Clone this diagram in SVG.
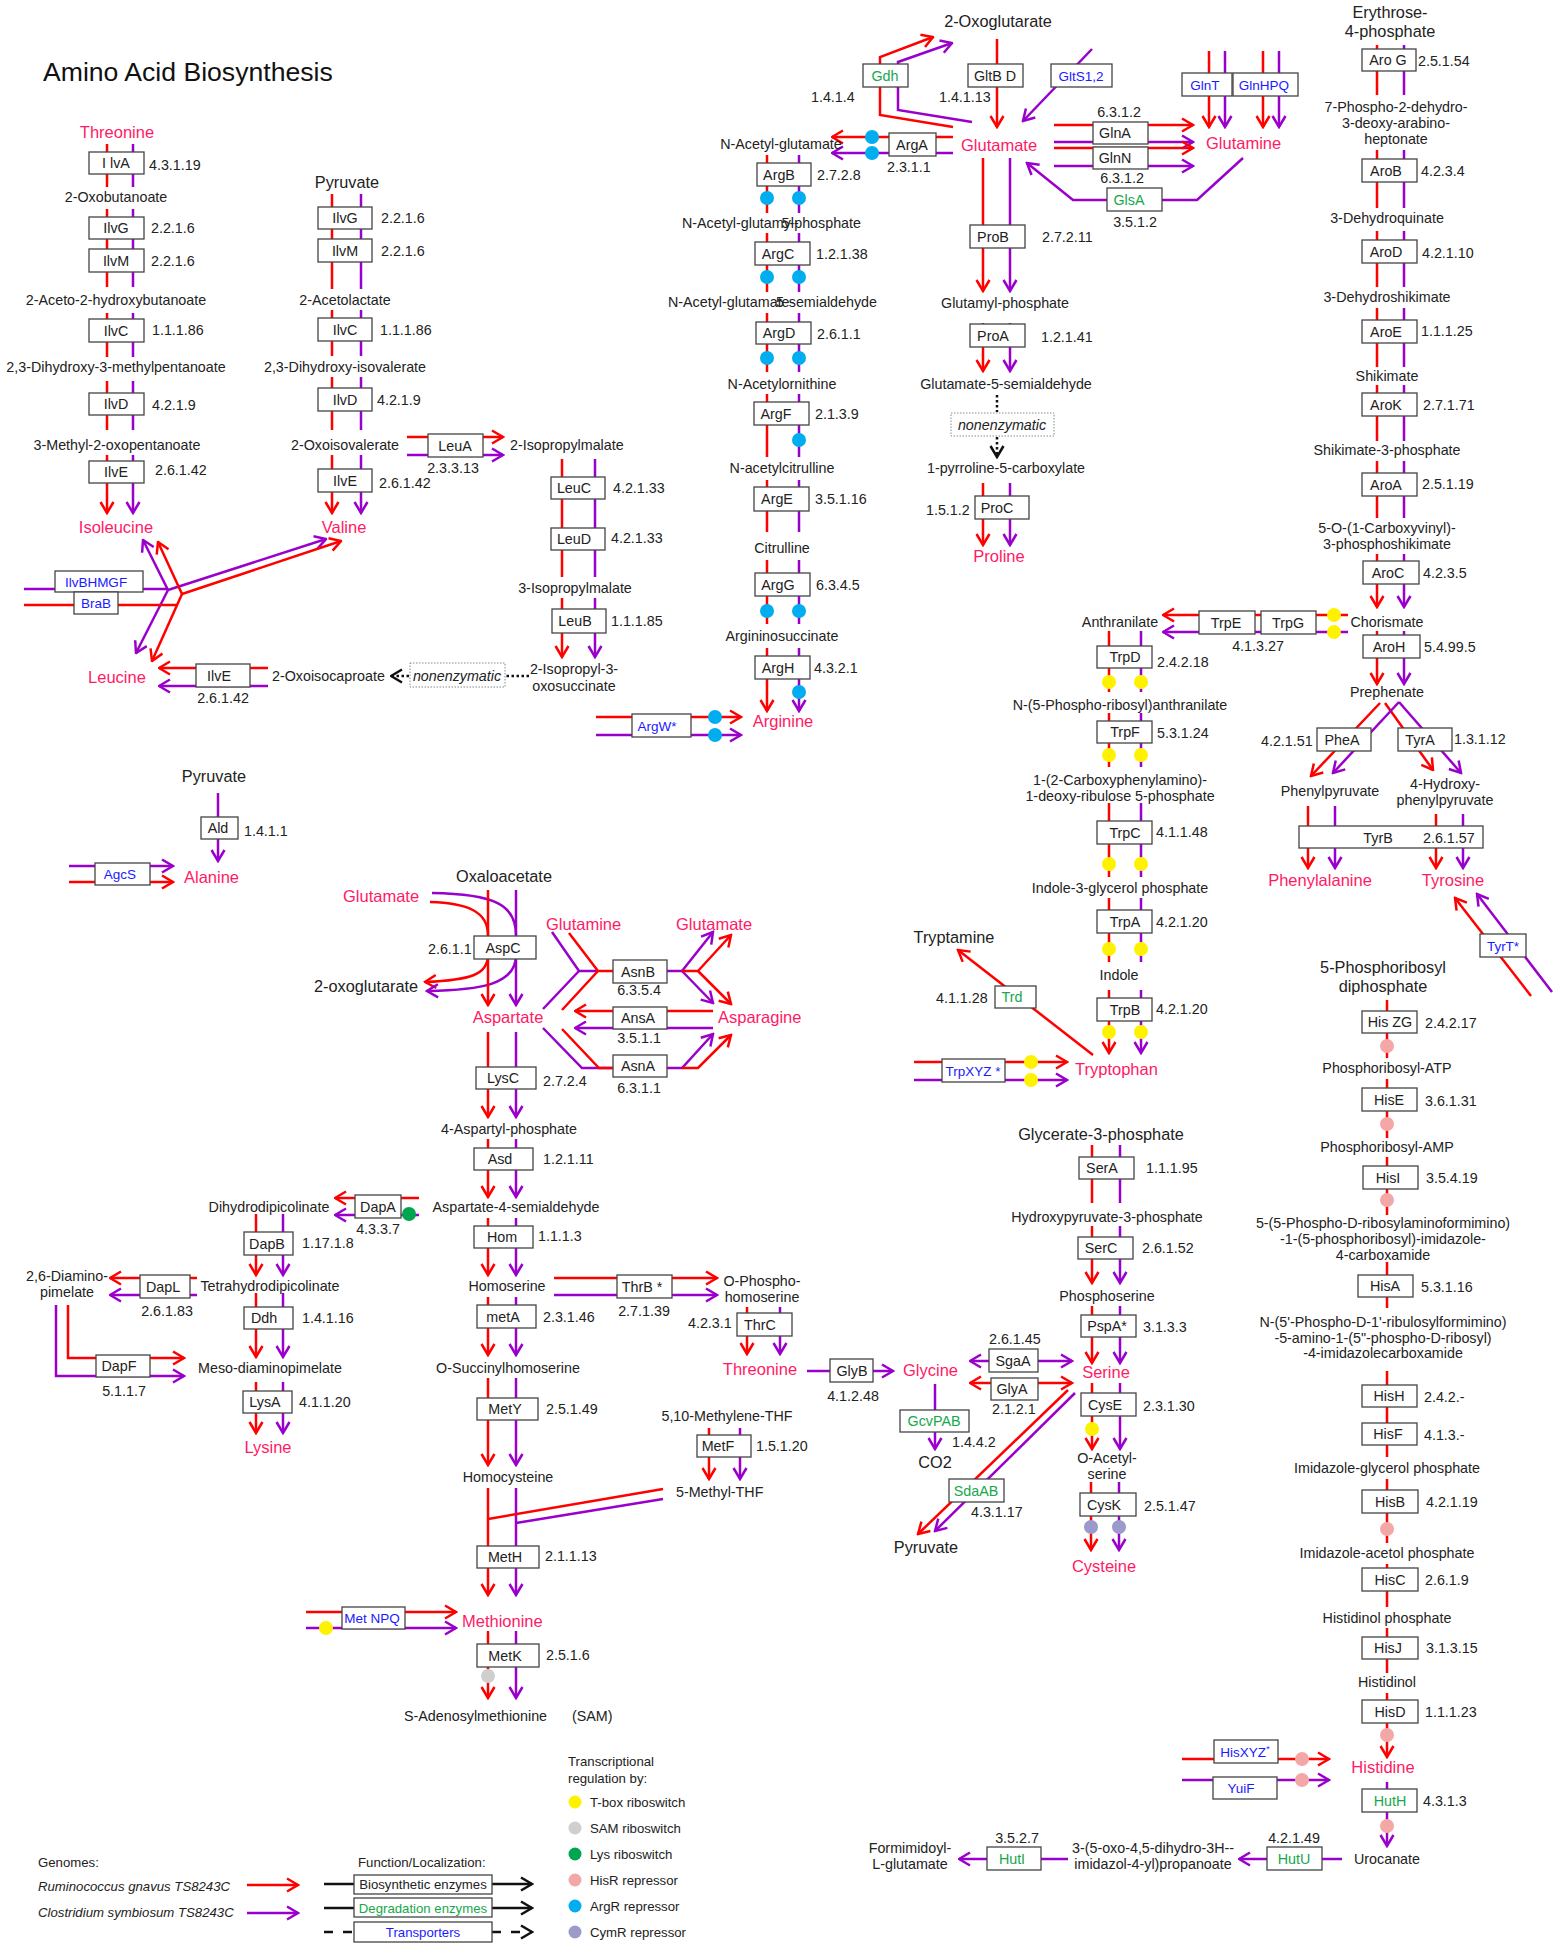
<svg xmlns="http://www.w3.org/2000/svg" width="1562" height="1944" viewBox="0 0 1562 1944">
<defs>
<style>
text{font-family:"Liberation Sans",Arial,sans-serif;font-size:14.3px;fill:#222}
.c{text-anchor:middle}
.e{text-anchor:end}
.aa{font-size:16.5px;fill:#ff1a66}
.L{font-size:16.3px}
.g{fill:#16a84a}
.bl{fill:#1a1aff;font-size:13.5px}
.it{font-style:italic}
.lg{font-size:13.2px}
.bx{fill:#fff;stroke:#444;stroke-width:1.3}
.db{fill:#fff;stroke:#888;stroke-width:1;stroke-dasharray:1.5,1.5}
.r{fill:none;stroke:#f00;stroke-width:2.5}
.p{fill:none;stroke:#90c;stroke-width:2.5}
.k{fill:none;stroke:#111;stroke-width:2.5}
.dot{stroke-dasharray:2.5,2.5}
.ra{marker-end:url(#ar)}
.pa{marker-end:url(#ap)}
.ka{marker-end:url(#ak)}
.rs{marker-start:url(#ar)}
.ps{marker-start:url(#ap)}
.y{fill:#fff200}.gr{fill:#cfcfcf}.gn{fill:#00a550}.pk{fill:#f4a7a7}.bu{fill:#00adef}.lv{fill:#9c99cb}
</style>
<marker id="ar" viewBox="0 0 14 16" refX="12.5" refY="8" markerWidth="14" markerHeight="16" markerUnits="userSpaceOnUse" orient="auto-start-reverse"><path d="M1.5,1.5L12.5,8L1.5,14.5" fill="none" stroke="#f00" stroke-width="2.5"/></marker>
<marker id="ap" viewBox="0 0 14 16" refX="12.5" refY="8" markerWidth="14" markerHeight="16" markerUnits="userSpaceOnUse" orient="auto-start-reverse"><path d="M1.5,1.5L12.5,8L1.5,14.5" fill="none" stroke="#90c" stroke-width="2.5"/></marker>
<marker id="ak" viewBox="0 0 14 16" refX="12.5" refY="8" markerWidth="14" markerHeight="16" markerUnits="userSpaceOnUse" orient="auto-start-reverse"><path d="M1.5,1.5L12.5,8L1.5,14.5" fill="none" stroke="#111" stroke-width="2.5"/></marker>
</defs>
<rect width="1562" height="1944" fill="#fff"/>
<text x="43" y="81" style="font-size:26.6px;fill:#111">Amino Acid Biosynthesis</text>

<g id="connectors">
<path class="r ra" d="M107,144V187M107,209V287M107,313V357M107,381V430M107,455V513"/>
<path class="p pa" d="M133,144V187M133,209V287M133,313V357M133,381V430M133,455V513"/>
<path class="r ra" d="M332,194V289M332,310V356M332,377V430M332,455V513"/>
<path class="p pa" d="M361,194V289M361,310V356M361,377V430M361,455V513"/>
<path class="r ra" d="M407,437H503"/><path class="p pa" d="M407,455H503"/>
<path class="r ra" d="M562,459V577M562,598V657"/><path class="p pa" d="M595,459V577M595,598V657"/>
<path class="k dot" d="M529,676H506"/><path class="k dot ka" d="M409,676H391"/>
<path class="r ra" d="M268,668H159"/><path class="p pa" d="M268,686H159"/>
<path class="p" d="M24,589H168"/>
<path class="p pa" d="M168,590L143,540"/><path class="p pa" d="M168,590L136,653"/><path class="p pa" d="M168,590L326,539"/>
<path class="r" d="M24,605H177"/>
<path class="r ra" d="M182,594L158,542"/><path class="r ra" d="M182,594L152,661"/><path class="r ra" d="M182,594L341,541"/>
<path class="r ra" d="M767,155V213M767,233V292M767,313V372M767,394V457M767,480V532M767,560V624M767,648V711"/>
<path class="p pa" d="M799,155V213M799,233V292M799,313V372M799,394V457M799,480V532M799,560V624M799,648V711"/>
<path class="r ra" d="M953,137H832"/><path class="p pa" d="M953,153H832"/>
<path class="r ra" d="M596,717H741"/><path class="p pa" d="M596,735H741"/>
<path class="r ra" d="M997,39V127"/>
<path class="r ra" d="M953,127L880,115V57L933,37"/>
<path class="p pa" d="M972,122L898,110V62L952,43"/>
<path class="p pa" d="M1092,49L1023,121"/>
<path class="r ra" d="M983,158V291"/><path class="p pa" d="M1010,158V291"/>
<path class="r ra" d="M983,323V371"/><path class="p pa" d="M1010,323V371"/>
<path class="k dot" d="M997,395V412"/><path class="k dot ka" d="M997,437V457"/>
<path class="r ra" d="M983,483V545"/><path class="p pa" d="M1010,483V545"/>
<path class="r ra" d="M1054,125H1193"/><path class="p pa" d="M1054,142H1193"/><path class="r ra" d="M1054,148H1193"/><path class="p pa" d="M1054,166H1193"/>
<path class="p pa" d="M1243,158L1197,200H1073L1027,163"/>
<path class="r ra" d="M1209,51V127"/><path class="p pa" d="M1225,51V127"/><path class="r ra" d="M1263,51V127"/><path class="p pa" d="M1279,51V127"/>
<path class="r" d="M1377,45V95M1377,150V208M1377,231V287M1377,308V367M1377,385V441M1377,461V518"/>
<path class="p" d="M1404,45V95M1404,150V208M1404,231V287M1404,308V367M1404,385V441M1404,461V518"/>
<path class="r ra" d="M1377,554V607"/><path class="p pa" d="M1404,554V607"/>
<path class="r ra" d="M1377,631V684"/><path class="p pa" d="M1404,631V684"/>
<path class="r ra" d="M1380,703L1311,776"/><path class="r ra" d="M1385,703L1433,770"/>
<path class="p pa" d="M1399,702L1333,773"/><path class="p pa" d="M1399,702L1461,773"/>
<path class="r ra" d="M1308,806V868"/><path class="p pa" d="M1335,806V868"/><path class="r ra" d="M1436,814V868"/><path class="p pa" d="M1463,814V868"/>
<path class="r ra" d="M1531,996L1455,898"/><path class="p pa" d="M1552,992L1477,894"/>
<path class="r ra" d="M1348,615H1163"/><path class="p pa" d="M1348,632H1163"/>
<path class="r ra" d="M1109,631V692M1109,713V767M1109,803V877M1109,898V962M1109,990V1053"/>
<path class="p pa" d="M1141,631V692M1141,713V767M1141,803V877M1141,898V962M1141,990V1053"/>
<path class="r ra" d="M914,1062H1067"/><path class="p pa" d="M914,1080H1067"/>
<path class="r ra" d="M1093,1055L958,950"/>
<path class="p pa" d="M218,793V861"/>
<path class="p pa" d="M69,866H173"/><path class="r ra" d="M69,882H173"/>
<path class="r" d="M430,902C468,903 488,912 488,935"/>
<path class="p" d="M432,893C495,894 516,905 516,935"/>
<path class="r ra" d="M488,955C488,975 470,980 425,982"/>
<path class="p pa" d="M516,955C516,985 480,990 427,991"/>
<path class="r ra" d="M488,890V1005"/><path class="p pa" d="M516,890V1005"/>
<path class="r ra" d="M488,1032V1117"/><path class="p pa" d="M516,1032V1117"/>
<path class="r ra" d="M488,1139V1197"/><path class="p pa" d="M516,1139V1197"/>
<path class="r ra" d="M488,1218V1275"/><path class="p pa" d="M516,1218V1275"/>
<path class="r ra" d="M488,1297V1355"/><path class="p pa" d="M516,1297V1355"/>
<path class="r ra" d="M488,1378V1465"/><path class="p pa" d="M516,1378V1465"/>
<path class="r ra" d="M488,1488V1595"/><path class="p pa" d="M516,1488V1595"/>
<path class="r ra" d="M488,1631V1698"/><path class="p pa" d="M516,1631V1698"/>
<path class="r" d="M663,1489L488,1519"/><path class="p" d="M663,1499L516,1523"/>
<path class="r ra" d="M709,1428V1479"/><path class="p pa" d="M740,1428V1479"/>
<path class="r ra" d="M306,1612H456"/><path class="p pa" d="M306,1628H456"/>
<path class="p" d="M552,932L579,971H598M543,1009L579,971"/>
<path class="r" d="M569,933L598,971H613M562,1010L598,971"/>
<path class="p" d="M667,971H682"/>
<path class="p pa" d="M682,971L713,932"/><path class="p pa" d="M682,971L713,1003"/>
<path class="r" d="M682,971H698"/>
<path class="r ra" d="M698,971L731,935"/><path class="r ra" d="M698,971L731,1004"/>
<path class="r ra" d="M713,1011H575"/><path class="p pa" d="M713,1028H575"/>
<path class="p" d="M543,1028L582,1068H613"/><path class="r" d="M562,1029L599,1068H613"/>
<path class="p pa" d="M667,1068H682L713,1034"/><path class="r ra" d="M682,1068H698L731,1035"/>
<path class="r ra" d="M419,1198H335"/><path class="p pa" d="M419,1215H335"/>
<path class="r ra" d="M256,1214V1275"/><path class="p pa" d="M283,1214V1275"/>
<path class="r ra" d="M256,1293V1357"/><path class="p pa" d="M283,1293V1357"/>
<path class="r ra" d="M256,1382V1433"/><path class="p pa" d="M283,1382V1433"/>
<path class="r ra" d="M197,1278H110"/><path class="p pa" d="M197,1295H110"/>
<path class="r ra" d="M68,1305V1358H184"/><path class="p pa" d="M56,1305V1376H184"/>
<path class="r ra" d="M554,1278H717"/><path class="p pa" d="M554,1295H717"/>
<path class="r ra" d="M747,1307V1354"/><path class="p pa" d="M780,1307V1354"/>
<path class="p pa" d="M807,1371H893"/>
<path class="p ps pa" d="M970,1361H1072"/>
<path class="r rs ra" d="M970,1383H1072"/>
<path class="p pa" d="M935,1384V1449"/>
<path class="r ra" d="M1068,1390L918,1534"/><path class="p pa" d="M1075,1393L935,1531"/>
<path class="r" d="M1092,1145V1203"/><path class="p" d="M1120,1145V1203"/>
<path class="r ra" d="M1092,1226V1283"/><path class="p pa" d="M1120,1226V1283"/>
<path class="r ra" d="M1092,1306V1363"/><path class="p pa" d="M1120,1306V1363"/>
<path class="r ra" d="M1092,1383V1449"/><path class="p pa" d="M1120,1383V1449"/>
<path class="r ra" d="M1091,1482V1550"/><path class="p pa" d="M1119,1482V1550"/>
<path class="r ra" d="M1387,1000V1058M1387,1079V1138M1387,1157V1215M1387,1262V1308M1387,1371V1457M1387,1479V1543M1387,1564V1607M1387,1628V1673M1387,1693V1757"/>
<path class="r ra" d="M1182,1759H1329"/><path class="p pa" d="M1182,1780H1329"/>
<path class="p pa" d="M1387,1782V1846"/>
<path class="p pa" d="M1342,1859H1239"/>
<path class="p pa" d="M1068,1859H959"/>
</g>

<g id="regulation">
<circle class="bu" cx="872" cy="137" r="7"/><circle class="bu" cx="872" cy="153" r="7"/>
<circle class="bu" cx="767" cy="198" r="7"/><circle class="bu" cx="799" cy="198" r="7"/>
<circle class="bu" cx="767" cy="277" r="7"/><circle class="bu" cx="799" cy="277" r="7"/>
<circle class="bu" cx="767" cy="358" r="7"/><circle class="bu" cx="799" cy="358" r="7"/>
<circle class="bu" cx="799" cy="440" r="7"/>
<circle class="bu" cx="767" cy="611" r="7"/><circle class="bu" cx="799" cy="611" r="7"/>
<circle class="bu" cx="799" cy="692" r="7"/>
<circle class="bu" cx="715" cy="717" r="7"/><circle class="bu" cx="715" cy="735" r="7"/>
<circle class="y" cx="1334" cy="615" r="7"/><circle class="y" cx="1334" cy="632" r="7"/>
<circle class="y" cx="1109" cy="682" r="7"/><circle class="y" cx="1141" cy="682" r="7"/>
<circle class="y" cx="1109" cy="755" r="7"/><circle class="y" cx="1141" cy="755" r="7"/>
<circle class="y" cx="1109" cy="864" r="7"/><circle class="y" cx="1141" cy="864" r="7"/>
<circle class="y" cx="1109" cy="949" r="7"/><circle class="y" cx="1141" cy="949" r="7"/>
<circle class="y" cx="1109" cy="1032" r="7"/><circle class="y" cx="1141" cy="1032" r="7"/>
<circle class="y" cx="1031" cy="1062" r="7"/><circle class="y" cx="1031" cy="1080" r="7"/>
<circle class="y" cx="1092" cy="1429" r="7"/>
<circle class="lv" cx="1091" cy="1527" r="7"/><circle class="lv" cx="1119" cy="1527" r="7"/>
<circle class="gn" cx="409" cy="1214" r="7"/>
<circle class="y" cx="326" cy="1628" r="7"/>
<circle class="gr" cx="488" cy="1676" r="7"/>
<circle class="pk" cx="1387" cy="1046" r="7"/><circle class="pk" cx="1387" cy="1124" r="7"/><circle class="pk" cx="1387" cy="1200" r="7"/>
<circle class="pk" cx="1387" cy="1529" r="7"/><circle class="pk" cx="1387" cy="1735" r="7"/>
<circle class="pk" cx="1302" cy="1759" r="7"/><circle class="pk" cx="1302" cy="1780" r="7"/>
<circle class="pk" cx="1387" cy="1826" r="7"/>
</g>

<g id="metabolites">
<text class="c aa" x="117" y="138">Threonine</text>
<text class="c" x="116" y="202">2-Oxobutanoate</text>
<text class="c" x="116" y="305">2-Aceto-2-hydroxybutanoate</text>
<text class="c" x="116" y="372">2,3-Dihydroxy-3-methylpentanoate</text>
<text class="c" x="117" y="450">3-Methyl-2-oxopentanoate</text>
<text class="c aa" x="116" y="533">Isoleucine</text>
<text class="c L" x="347" y="188">Pyruvate</text>
<text class="c" x="345" y="305">2-Acetolactate</text>
<text class="c" x="345" y="372">2,3-Dihydroxy-isovalerate</text>
<text class="c" x="345" y="450">2-Oxoisovalerate</text>
<text class="c aa" x="344" y="533">Valine</text>
<text x="510" y="450">2-Isopropylmalate</text>
<text class="c" x="575" y="593">3-Isopropylmalate</text>
<text class="c" x="574" y="674">2-Isopropyl-3-</text>
<text class="c" x="574" y="691">oxosuccinate</text>
<text x="272" y="681">2-Oxoisocaproate</text>
<text class="c aa" x="117" y="683">Leucine</text>
<text class="c" x="781" y="149">N-Acetyl-glutamate</text>
<text x="682" y="228">N-Acetyl-glutamyl-</text><text class="e" x="861" y="228">5-phosphate</text>
<text x="668" y="307">N-Acetyl-glutamate-</text><text class="e" x="877" y="307">5-semialdehyde</text>
<text class="c" x="782" y="389">N-Acetylornithine</text>
<text class="c" x="782" y="473">N-acetylcitrulline</text>
<text class="c" x="782" y="553">Citrulline</text>
<text class="c" x="782" y="641">Argininosuccinate</text>
<text class="c aa" x="783" y="727">Arginine</text>
<text class="c L" x="998" y="27">2-Oxoglutarate</text>
<text x="961" y="151" class="aa">Glutamate</text>
<text class="c" x="1005" y="308">Glutamyl-phosphate</text>
<text class="c" x="1006" y="389">Glutamate-5-semialdehyde</text>
<text class="c" x="1006" y="473">1-pyrroline-5-carboxylate</text>
<text class="c aa" x="999" y="562">Proline</text>
<text x="1206" y="149" class="aa">Glutamine</text>
<text class="c L" x="1390" y="18">Erythrose-</text>
<text class="c L" x="1390" y="37">4-phosphate</text>
<text class="c" x="1396" y="112">7-Phospho-2-dehydro-</text>
<text class="c" x="1396" y="128">3-deoxy-arabino-</text>
<text class="c" x="1396" y="144">heptonate</text>
<text class="c" x="1387" y="223">3-Dehydroquinate</text>
<text class="c" x="1387" y="302">3-Dehydroshikimate</text>
<text class="c" x="1387" y="381">Shikimate</text>
<text class="c" x="1387" y="455">Shikimate-3-phosphate</text>
<text class="c" x="1387" y="533">5-O-(1-Carboxyvinyl)-</text>
<text class="c" x="1387" y="549">3-phosphoshikimate</text>
<text class="c" x="1387" y="627">Chorismate</text>
<text class="c" x="1387" y="697">Prephenate</text>
<text class="c" x="1330" y="796">Phenylpyruvate</text>
<text class="c" x="1445" y="789">4-Hydroxy-</text>
<text class="c" x="1445" y="805">phenylpyruvate</text>
<text class="c aa" x="1320" y="886">Phenylalanine</text>
<text class="c aa" x="1453" y="886">Tyrosine</text>
<text class="c" x="1120" y="627">Anthranilate</text>
<text class="c" x="1120" y="710">N-(5-Phospho-ribosyl)anthranilate</text>
<text class="c" x="1120" y="785">1-(2-Carboxyphenylamino)-</text>
<text class="c" x="1120" y="801">1-deoxy-ribulose 5-phosphate</text>
<text class="c" x="1120" y="893">Indole-3-glycerol phosphate</text>
<text class="c" x="1119" y="980">Indole</text>
<text x="1075" y="1075" class="aa">Tryptophan</text>
<text class="c L" x="954" y="943">Tryptamine</text>
<text class="c L" x="214" y="782">Pyruvate</text>
<text x="184" y="883" class="aa">Alanine</text>
<text x="456" y="882" class="L">Oxaloacetate</text>
<text x="343" y="902" class="aa">Glutamate</text>
<text x="314" y="992" class="L">2-oxoglutarate</text>
<text class="c aa" x="508" y="1023">Aspartate</text>
<text x="546" y="930" class="aa">Glutamine</text>
<text x="676" y="930" class="aa">Glutamate</text>
<text x="718" y="1023" class="aa">Asparagine</text>
<text class="c" x="509" y="1134">4-Aspartyl-phosphate</text>
<text class="c" x="516" y="1212">Aspartate-4-semialdehyde</text>
<text class="c" x="269" y="1212">Dihydrodipicolinate</text>
<text class="c" x="270" y="1291">Tetrahydrodipicolinate</text>
<text class="c" x="67" y="1281">2,6-Diamino-</text>
<text class="c" x="67" y="1297">pimelate</text>
<text class="c" x="270" y="1373">Meso-diaminopimelate</text>
<text class="c aa" x="268" y="1453">Lysine</text>
<text class="c" x="507" y="1291">Homoserine</text>
<text class="c" x="762" y="1286">O-Phospho-</text>
<text class="c" x="762" y="1302">homoserine</text>
<text class="c aa" x="760" y="1375">Threonine</text>
<text x="903" y="1376" class="aa">Glycine</text>
<text class="c L" x="935" y="1468">CO2</text>
<text class="c L" x="926" y="1553">Pyruvate</text>
<text class="c" x="508" y="1373">O-Succinylhomoserine</text>
<text class="c" x="508" y="1482">Homocysteine</text>
<text class="c" x="727" y="1421">5,10-Methylene-THF</text>
<text x="676" y="1497">5-Methyl-THF</text>
<text x="462" y="1627" class="aa">Methionine</text>
<text x="404" y="1721">S-Adenosylmethionine</text>
<text x="572" y="1721">(SAM)</text>
<text class="c L" x="1101" y="1140">Glycerate-3-phosphate</text>
<text class="c" x="1107" y="1222">Hydroxypyruvate-3-phosphate</text>
<text class="c" x="1107" y="1301">Phosphoserine</text>
<text class="c aa" x="1106" y="1378">Serine</text>
<text class="c" x="1107" y="1463">O-Acetyl-</text>
<text class="c" x="1107" y="1479">serine</text>
<text class="c aa" x="1104" y="1572">Cysteine</text>
<text class="c L" x="1383" y="973">5-Phosphoribosyl</text>
<text class="c L" x="1383" y="992">diphosphate</text>
<text class="c" x="1387" y="1073">Phosphoribosyl-ATP</text>
<text class="c" x="1387" y="1152">Phosphoribosyl-AMP</text>
<text class="c" x="1383" y="1228">5-(5-Phospho-D-ribosylaminoformimino)</text>
<text class="c" x="1383" y="1244">-1-(5-phosphoribosyl)-imidazole-</text>
<text class="c" x="1383" y="1260">4-carboxamide</text>
<text class="c" x="1383" y="1327">N-(5'-Phospho-D-1'-ribulosylformimino)</text>
<text class="c" x="1383" y="1343">-5-amino-1-(5"-phospho-D-ribosyl)</text>
<text class="c" x="1383" y="1358">-4-imidazolecarboxamide</text>
<text class="c" x="1387" y="1473">Imidazole-glycerol phosphate</text>
<text class="c" x="1387" y="1558">Imidazole-acetol phosphate</text>
<text class="c" x="1387" y="1623">Histidinol phosphate</text>
<text class="c" x="1387" y="1687">Histidinol</text>
<text class="c aa" x="1383" y="1773">Histidine</text>
<text class="c" x="1387" y="1864">Urocanate</text>
<text class="c" x="1153" y="1853">3-(5-oxo-4,5-dihydro-3H--</text>
<text class="c" x="1153" y="1869">imidazol-4-yl)propanoate</text>
<text class="c" x="910" y="1853">Formimidoyl-</text>
<text class="c" x="910" y="1869">L-glutamate</text>
</g>

<g id="enzymes">
<g id="IlvA1"><rect class="bx" x="89" y="152" width="55" height="22"/><text class="c" x="116" y="168">I lvA</text><text x="149" y="170">4.3.1.19</text></g>
<g id="IlvG1"><rect class="bx" x="89" y="217" width="55" height="22"/><text class="c" x="116" y="233">IlvG</text><text x="151" y="233">2.2.1.6</text></g>
<g id="IlvM1"><rect class="bx" x="89" y="249" width="55" height="23"/><text class="c" x="116" y="266">IlvM</text><text x="151" y="266">2.2.1.6</text></g>
<g id="IlvC1"><rect class="bx" x="89" y="319" width="55" height="23"/><text class="c" x="116" y="336">IlvC</text><text x="152" y="335">1.1.1.86</text></g>
<g id="IlvD1"><rect class="bx" x="89" y="393" width="55" height="22"/><text class="c" x="116" y="409">IlvD</text><text x="152" y="410">4.2.1.9</text></g>
<g id="IlvE1"><rect class="bx" x="89" y="461" width="55" height="22"/><text class="c" x="116" y="477">IlvE</text><text x="155" y="475">2.6.1.42</text></g>
<g id="IlvG2"><rect class="bx" x="318" y="207" width="54" height="22"/><text class="c" x="345" y="223">IlvG</text><text x="381" y="223">2.2.1.6</text></g>
<g id="IlvM2"><rect class="bx" x="318" y="239" width="54" height="23"/><text class="c" x="345" y="256">IlvM</text><text x="381" y="256">2.2.1.6</text></g>
<g id="IlvC2"><rect class="bx" x="318" y="318" width="54" height="23"/><text class="c" x="345" y="335">IlvC</text><text x="380" y="335">1.1.1.86</text></g>
<g id="IlvD2"><rect class="bx" x="318" y="388" width="54" height="23"/><text class="c" x="345" y="405">IlvD</text><text x="377" y="405">4.2.1.9</text></g>
<g id="IlvE2"><rect class="bx" x="318" y="469" width="54" height="23"/><text class="c" x="345" y="486">IlvE</text><text x="379" y="488">2.6.1.42</text></g>
<g id="LeuA"><rect class="bx" x="428" y="434" width="55" height="23"/><text class="c" x="455" y="451">LeuA</text><text class="c" x="453" y="473">2.3.3.13</text></g>
<g id="LeuC"><rect class="bx" x="551" y="477" width="54" height="22"/><text class="c" x="574" y="493">LeuC</text><text x="613" y="493">4.2.1.33</text></g>
<g id="LeuD"><rect class="bx" x="551" y="528" width="54" height="22"/><text class="c" x="574" y="544">LeuD</text><text x="611" y="543">4.2.1.33</text></g>
<g id="LeuB"><rect class="bx" x="552" y="609" width="54" height="24"/><text class="c" x="575" y="626">LeuB</text><text x="611" y="626">1.1.1.85</text></g>
<g id="nonenz1"><rect class="db" x="410" y="663" width="95" height="24"/><text class="c it" x="457" y="681">nonenzymatic</text></g>
<g id="IlvE3"><rect class="bx" x="196" y="664" width="54" height="23"/><text class="c" x="219" y="681">IlvE</text><text class="c" x="223" y="703">2.6.1.42</text></g>
<g id="IlvBHMGF"><rect class="bx" x="55" y="571" width="88" height="21"/><text class="c bl" x="96" y="587">IlvBHMGF</text></g>
<g id="BraB"><rect class="bx" x="74" y="592" width="44" height="22"/><text class="c bl" x="96" y="608">BraB</text></g>
<g id="ArgA"><rect class="bx" x="889" y="133" width="47" height="23"/><text class="c" x="912" y="150">ArgA</text><text x="887" y="172">2.3.1.1</text></g>
<g id="ArgB"><rect class="bx" x="757" y="163" width="54" height="23"/><text class="c" x="779" y="180">ArgB</text><text x="817" y="180">2.7.2.8</text></g>
<g id="ArgC"><rect class="bx" x="755" y="242" width="55" height="23"/><text class="c" x="778" y="259">ArgC</text><text x="816" y="259">1.2.1.38</text></g>
<g id="ArgD"><rect class="bx" x="756" y="322" width="55" height="22"/><text class="c" x="779" y="338">ArgD</text><text x="817" y="339">2.6.1.1</text></g>
<g id="ArgF"><rect class="bx" x="754" y="402" width="55" height="23"/><text class="c" x="776" y="419">ArgF</text><text x="815" y="419">2.1.3.9</text></g>
<g id="ArgE"><rect class="bx" x="754" y="487" width="55" height="24"/><text class="c" x="777" y="504">ArgE</text><text x="815" y="504">3.5.1.16</text></g>
<g id="ArgG"><rect class="bx" x="755" y="573" width="55" height="23"/><text class="c" x="778" y="590">ArgG</text><text x="816" y="590">6.3.4.5</text></g>
<g id="ArgH"><rect class="bx" x="755" y="656" width="55" height="23"/><text class="c" x="778" y="673">ArgH</text><text x="814" y="673">4.3.2.1</text></g>
<g id="ArgW"><rect class="bx" x="632" y="714" width="59" height="23"/><text class="c bl" x="657" y="731">ArgW*</text></g>
<g id="GltBD"><rect class="bx" x="968" y="64" width="55" height="23"/><text class="c" x="995" y="81">GltB D</text><text x="939" y="102">1.4.1.13</text></g>
<g id="Gdh"><rect class="bx" x="863" y="64" width="45" height="23"/><text class="c g" x="885" y="81">Gdh</text><text x="811" y="102">1.4.1.4</text></g>
<g id="GltS"><rect class="bx" x="1051" y="64" width="61" height="23"/><text class="c bl" x="1081" y="81">GltS1,2</text></g>
<g id="ProB"><rect class="bx" x="970" y="225" width="55" height="23"/><text class="c" x="993" y="242">ProB</text><text x="1042" y="242">2.7.2.11</text></g>
<g id="ProA"><rect class="bx" x="970" y="324" width="55" height="23"/><text class="c" x="993" y="341">ProA</text><text x="1041" y="342">1.2.1.41</text></g>
<g id="nonenz2"><rect class="db" x="951" y="413" width="103" height="23"/><text class="c it" x="1002" y="430">nonenzymatic</text></g>
<g id="ProC"><rect class="bx" x="975" y="496" width="54" height="23"/><text class="c" x="997" y="513">ProC</text><text x="926" y="515">1.5.1.2</text></g>
<g id="GlnA"><rect class="bx" x="1093" y="122" width="55" height="22"/><text class="c" x="1115" y="138">GlnA</text><text class="c" x="1119" y="117">6.3.1.2</text></g>
<g id="GlnN"><rect class="bx" x="1093" y="147" width="55" height="22"/><text class="c" x="1115" y="163">GlnN</text><text class="c" x="1122" y="183">6.3.1.2</text></g>
<g id="GlsA"><rect class="bx" x="1107" y="188" width="55" height="23"/><text class="c g" x="1129" y="205">GlsA</text><text class="c" x="1135" y="227">3.5.1.2</text></g>
<g id="GlnT"><rect class="bx" x="1182" y="73" width="50" height="23"/><text class="c bl" x="1205" y="90">GlnT</text></g>
<g id="GlnHPQ"><rect class="bx" x="1233" y="73" width="65" height="23"/><text class="c bl" x="1264" y="90">GlnHPQ</text></g>
<g id="AroG"><rect class="bx" x="1362" y="49" width="54" height="22"/><text class="c" x="1388" y="65">Aro G</text><text x="1418" y="66">2.5.1.54</text></g>
<g id="AroB"><rect class="bx" x="1362" y="159" width="55" height="23"/><text class="c" x="1386" y="176">AroB</text><text x="1421" y="176">4.2.3.4</text></g>
<g id="AroD"><rect class="bx" x="1362" y="240" width="55" height="23"/><text class="c" x="1386" y="257">AroD</text><text x="1422" y="258">4.2.1.10</text></g>
<g id="AroE"><rect class="bx" x="1362" y="320" width="55" height="23"/><text class="c" x="1386" y="337">AroE</text><text x="1421" y="336">1.1.1.25</text></g>
<g id="AroK"><rect class="bx" x="1362" y="393" width="55" height="23"/><text class="c" x="1386" y="410">AroK</text><text x="1423" y="410">2.7.1.71</text></g>
<g id="AroA"><rect class="bx" x="1362" y="473" width="55" height="23"/><text class="c" x="1386" y="490">AroA</text><text x="1422" y="489">2.5.1.19</text></g>
<g id="AroC"><rect class="bx" x="1363" y="561" width="56" height="23"/><text class="c" x="1388" y="578">AroC</text><text x="1423" y="578">4.2.3.5</text></g>
<g id="AroH"><rect class="bx" x="1363" y="635" width="57" height="23"/><text class="c" x="1389" y="652">AroH</text><text x="1424" y="652">5.4.99.5</text></g>
<g id="PheA"><rect class="bx" x="1317" y="728" width="54" height="23"/><text class="c" x="1342" y="745">PheA</text><text x="1261" y="746">4.2.1.51</text></g>
<g id="TyrA"><rect class="bx" x="1398" y="728" width="54" height="23"/><text class="c" x="1420" y="745">TyrA</text><text x="1454" y="744">1.3.1.12</text></g>
<g id="TyrB"><rect class="bx" x="1299" y="826" width="184" height="22"/><text class="c" x="1378" y="843">TyrB</text><text x="1423" y="843">2.6.1.57</text></g>
<g id="TyrT"><rect class="bx" x="1480" y="934" width="46" height="23"/><text class="c bl" x="1503" y="951">TyrT*</text></g>
<g id="TrpE"><rect class="bx" x="1199" y="611" width="56" height="23"/><text class="c" x="1226" y="628">TrpE</text></g>
<g id="TrpG"><rect class="bx" x="1261" y="611" width="55" height="23"/><text class="c" x="1288" y="628">TrpG</text><text class="c" x="1258" y="651">4.1.3.27</text></g>
<g id="TrpD"><rect class="bx" x="1097" y="646" width="55" height="22"/><text class="c" x="1125" y="662">TrpD</text><text x="1157" y="667">2.4.2.18</text></g>
<g id="TrpF"><rect class="bx" x="1097" y="721" width="55" height="22"/><text class="c" x="1125" y="737">TrpF</text><text x="1157" y="738">5.3.1.24</text></g>
<g id="TrpC"><rect class="bx" x="1097" y="821" width="55" height="23"/><text class="c" x="1125" y="838">TrpC</text><text x="1156" y="837">4.1.1.48</text></g>
<g id="TrpA"><rect class="bx" x="1097" y="910" width="55" height="23"/><text class="c" x="1125" y="927">TrpA</text><text x="1156" y="927">4.2.1.20</text></g>
<g id="TrpB"><rect class="bx" x="1097" y="998" width="55" height="23"/><text class="c" x="1125" y="1015">TrpB</text><text x="1156" y="1014">4.2.1.20</text></g>
<g id="TrpXYZ"><rect class="bx" x="942" y="1059" width="63" height="23"/><text class="c bl" x="973" y="1076">TrpXYZ *</text></g>
<g id="Trd"><rect class="bx" x="995" y="986" width="41" height="22"/><text class="c g" x="1012" y="1002">Trd</text><text x="936" y="1003">4.1.1.28</text></g>
<g id="Ald"><rect class="bx" x="201" y="817" width="37" height="22"/><text class="c" x="218" y="833">Ald</text><text x="244" y="836">1.4.1.1</text></g>
<g id="AgcS"><rect class="bx" x="95" y="863" width="55" height="22"/><text class="c bl" x="120" y="879">AgcS</text></g>
<g id="AspC"><rect class="bx" x="474" y="936" width="62" height="23"/><text class="c" x="503" y="953">AspC</text><text x="428" y="954">2.6.1.1</text></g>
<g id="AsnB"><rect class="bx" x="613" y="960" width="54" height="23"/><text class="c" x="638" y="977">AsnB</text><text class="c" x="639" y="995">6.3.5.4</text></g>
<g id="AnsA"><rect class="bx" x="613" y="1007" width="54" height="22"/><text class="c" x="638" y="1023">AnsA</text><text class="c" x="639" y="1043">3.5.1.1</text></g>
<g id="AsnA"><rect class="bx" x="613" y="1055" width="54" height="22"/><text class="c" x="638" y="1071">AsnA</text><text class="c" x="639" y="1093">6.3.1.1</text></g>
<g id="LysC"><rect class="bx" x="476" y="1067" width="60" height="22"/><text class="c" x="503" y="1083">LysC</text><text x="543" y="1086">2.7.2.4</text></g>
<g id="Asd"><rect class="bx" x="474" y="1148" width="59" height="22"/><text class="c" x="500" y="1164">Asd</text><text x="543" y="1164">1.2.1.11</text></g>
<g id="DapA"><rect class="bx" x="355" y="1195" width="46" height="23"/><text class="c" x="378" y="1212">DapA</text><text class="c" x="378" y="1234">4.3.3.7</text></g>
<g id="DapB"><rect class="bx" x="244" y="1232" width="49" height="23"/><text class="c" x="267" y="1249">DapB</text><text x="302" y="1248">1.17.1.8</text></g>
<g id="DapL"><rect class="bx" x="140" y="1275" width="50" height="23"/><text class="c" x="163" y="1292">DapL</text><text class="c" x="167" y="1316">2.6.1.83</text></g>
<g id="Ddh"><rect class="bx" x="244" y="1307" width="49" height="22"/><text class="c" x="264" y="1323">Ddh</text><text x="302" y="1323">1.4.1.16</text></g>
<g id="DapF"><rect class="bx" x="96" y="1355" width="54" height="22"/><text class="c" x="119" y="1371">DapF</text><text class="c" x="124" y="1396">5.1.1.7</text></g>
<g id="LysA"><rect class="bx" x="243" y="1391" width="49" height="22"/><text class="c" x="265" y="1407">LysA</text><text x="299" y="1407">4.1.1.20</text></g>
<g id="Hom"><rect class="bx" x="474" y="1226" width="59" height="22"/><text class="c" x="502" y="1242">Hom</text><text x="538" y="1241">1.1.1.3</text></g>
<g id="ThrB"><rect class="bx" x="617" y="1275" width="55" height="23"/><text class="c" x="642" y="1292">ThrB *</text><text class="c" x="644" y="1316">2.7.1.39</text></g>
<g id="ThrC"><rect class="bx" x="737" y="1313" width="55" height="23"/><text class="c" x="760" y="1330">ThrC</text><text x="688" y="1328">4.2.3.1</text></g>
<g id="GlyB"><rect class="bx" x="830" y="1359" width="43" height="23"/><text class="c" x="852" y="1376">GlyB</text><text class="c" x="853" y="1401">4.1.2.48</text></g>
<g id="SgaA"><rect class="bx" x="989" y="1349" width="49" height="23"/><text class="c" x="1013" y="1366">SgaA</text><text x="989" y="1344">2.6.1.45</text></g>
<g id="GlyA"><rect class="bx" x="991" y="1378" width="47" height="22"/><text class="c" x="1012" y="1394">GlyA</text><text x="992" y="1414">2.1.2.1</text></g>
<g id="GcvPAB"><rect class="bx" x="900" y="1410" width="69" height="22"/><text class="c g" x="934" y="1426">GcvPAB</text><text x="952" y="1447">1.4.4.2</text></g>
<g id="SdaAB"><rect class="bx" x="949" y="1479" width="55" height="23"/><text class="c g" x="976" y="1496">SdaAB</text><text x="971" y="1517">4.3.1.17</text></g>
<g id="metA"><rect class="bx" x="477" y="1305" width="59" height="23"/><text class="c" x="503" y="1322">metA</text><text x="543" y="1322">2.3.1.46</text></g>
<g id="MetY"><rect class="bx" x="477" y="1398" width="61" height="22"/><text class="c" x="505" y="1414">MetY</text><text x="546" y="1414">2.5.1.49</text></g>
<g id="MetF"><rect class="bx" x="697" y="1435" width="54" height="22"/><text class="c" x="718" y="1451">MetF</text><text x="756" y="1451">1.5.1.20</text></g>
<g id="MetH"><rect class="bx" x="477" y="1546" width="62" height="22"/><text class="c" x="505" y="1562">MetH</text><text x="545" y="1561">2.1.1.13</text></g>
<g id="MetNPQ"><rect class="bx" x="342" y="1607" width="63" height="22"/><text class="c bl" x="372" y="1623">Met NPQ</text></g>
<g id="MetK"><rect class="bx" x="477" y="1644" width="62" height="23"/><text class="c" x="505" y="1661">MetK</text><text x="546" y="1660">2.5.1.6</text></g>
<g id="SerA"><rect class="bx" x="1079" y="1157" width="55" height="22"/><text class="c" x="1102" y="1173">SerA</text><text x="1146" y="1173">1.1.1.95</text></g>
<g id="SerC"><rect class="bx" x="1078" y="1237" width="55" height="22"/><text class="c" x="1101" y="1253">SerC</text><text x="1142" y="1253">2.6.1.52</text></g>
<g id="PspA"><rect class="bx" x="1081" y="1315" width="55" height="22"/><text class="c" x="1107" y="1331">PspA*</text><text x="1143" y="1332">3.1.3.3</text></g>
<g id="CysE"><rect class="bx" x="1081" y="1393" width="55" height="23"/><text class="c" x="1105" y="1410">CysE</text><text x="1143" y="1411">2.3.1.30</text></g>
<g id="CysK"><rect class="bx" x="1080" y="1493" width="56" height="23"/><text class="c" x="1104" y="1510">CysK</text><text x="1144" y="1511">2.5.1.47</text></g>
<g id="HisZG"><rect class="bx" x="1362" y="1011" width="55" height="22"/><text class="c" x="1390" y="1027">His ZG</text><text x="1425" y="1028">2.4.2.17</text></g>
<g id="HisE"><rect class="bx" x="1362" y="1088" width="55" height="23"/><text class="c" x="1389" y="1105">HisE</text><text x="1425" y="1106">3.6.1.31</text></g>
<g id="HisI"><rect class="bx" x="1363" y="1166" width="55" height="23"/><text class="c" x="1388" y="1183">HisI</text><text x="1426" y="1183">3.5.4.19</text></g>
<g id="HisA"><rect class="bx" x="1358" y="1275" width="55" height="22"/><text class="c" x="1385" y="1291">HisA</text><text x="1421" y="1292">5.3.1.16</text></g>
<g id="HisH"><rect class="bx" x="1362" y="1385" width="55" height="22"/><text class="c" x="1389" y="1401">HisH</text><text x="1424" y="1402">2.4.2.-</text></g>
<g id="HisF"><rect class="bx" x="1362" y="1423" width="55" height="22"/><text class="c" x="1388" y="1439">HisF</text><text x="1424" y="1440">4.1.3.-</text></g>
<g id="HisB"><rect class="bx" x="1362" y="1490" width="56" height="23"/><text class="c" x="1390" y="1507">HisB</text><text x="1426" y="1507">4.2.1.19</text></g>
<g id="HisC"><rect class="bx" x="1362" y="1568" width="56" height="23"/><text class="c" x="1390" y="1585">HisC</text><text x="1425" y="1585">2.6.1.9</text></g>
<g id="HisJ"><rect class="bx" x="1362" y="1637" width="56" height="22"/><text class="c" x="1388" y="1653">HisJ</text><text x="1426" y="1653">3.1.3.15</text></g>
<g id="HisD"><rect class="bx" x="1362" y="1700" width="56" height="23"/><text class="c" x="1390" y="1717">HisD</text><text x="1425" y="1717">1.1.1.23</text></g>
<g id="HisXYZ"><rect class="bx" x="1214" y="1740" width="64" height="23"/><text class="c bl" x="1245" y="1757">HisXYZ<tspan dy="-5" font-size="9">*</tspan></text></g>
<g id="YuiF"><rect class="bx" x="1213" y="1777" width="64" height="22"/><text class="c bl" x="1241" y="1793">YuiF</text></g>
<g id="HutH"><rect class="bx" x="1362" y="1789" width="55" height="23"/><text class="c g" x="1390" y="1806">HutH</text><text x="1423" y="1806">4.3.1.3</text></g>
<g id="HutU"><rect class="bx" x="1267" y="1847" width="55" height="23"/><text class="c g" x="1294" y="1864">HutU</text><text class="c" x="1294" y="1843">4.2.1.49</text></g>
<g id="HutI"><rect class="bx" x="987" y="1847" width="54" height="23"/><text class="c g" x="1012" y="1864">HutI</text><text class="c" x="1017" y="1843">3.5.2.7</text></g>
</g>

<g id="legend">
<text x="38" y="1867" class="lg">Genomes:</text>
<text x="38" y="1891" class="lg it">Ruminococcus gnavus TS8243C</text>
<text x="38" y="1917" class="lg it">Clostridium symbiosum TS8243C</text>
<path class="r ra" d="M247,1885H298"/>
<path class="p pa" d="M247,1913H298"/>
<text x="358" y="1867" class="lg">Function/Localization:</text>
<path class="k" d="M324,1884H354"/><path class="k ka" d="M492,1884H532"/>
<rect class="bx" x="354" y="1875" width="138" height="19"/><text class="c lg" x="423" y="1889">Biosynthetic enzymes</text>
<path class="k" d="M324,1908H354"/><path class="k ka" d="M492,1908H532"/>
<rect class="bx" x="354" y="1898" width="138" height="19"/><text class="c lg g" x="423" y="1913">Degradation enzymes</text>
<path class="k" d="M324,1932H354" stroke-dasharray="9,10"/><path class="k ka" d="M492,1932H532" stroke-dasharray="9,10"/>
<rect class="bx" x="354" y="1922" width="138" height="20"/><text class="c lg" x="423" y="1937" style="fill:#1a1aff">Transporters</text>
<text x="568" y="1766" class="lg">Transcriptional</text>
<text x="568" y="1783" class="lg">regulation by:</text>
<circle class="y" cx="575" cy="1802" r="6.5"/><text x="590" y="1807" class="lg">T-box riboswitch</text>
<circle class="gr" cx="575" cy="1828" r="6.5"/><text x="590" y="1833" class="lg">SAM riboswitch</text>
<circle class="gn" cx="575" cy="1854" r="6.5"/><text x="590" y="1859" class="lg">Lys riboswitch</text>
<circle class="pk" cx="575" cy="1880" r="6.5"/><text x="590" y="1885" class="lg">HisR repressor</text>
<circle class="bu" cx="575" cy="1906" r="6.5"/><text x="590" y="1911" class="lg">ArgR repressor</text>
<circle class="lv" cx="575" cy="1932" r="6.5"/><text x="590" y="1937" class="lg">CymR repressor</text>
</g>
</svg>
